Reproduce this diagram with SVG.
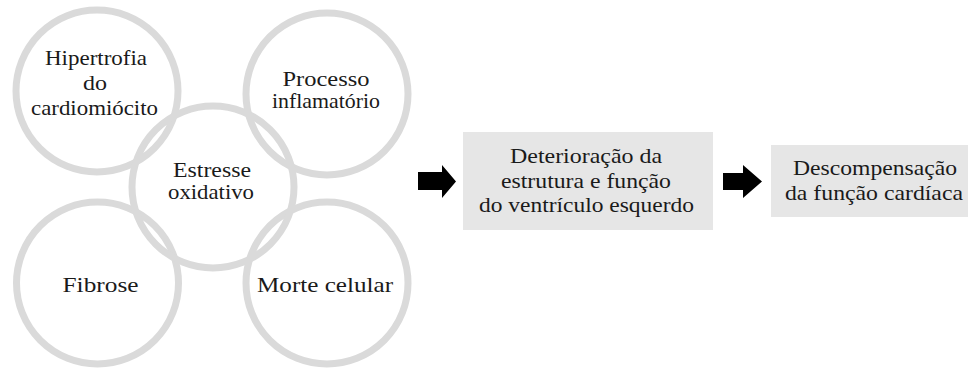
<svg xmlns="http://www.w3.org/2000/svg" width="968" height="369" viewBox="0 0 968 369">
<style>
.ring{fill:none;stroke:#dadada;stroke-width:7}
.box{fill:#e6e6e6}
.t{font-size:21px;fill:#1a1a1a;text-anchor:middle}
.arr{fill:#000}
</style>
<rect width="968" height="369" fill="#fff"/>
<g font-family="'Liberation Serif','Times New Roman',Tinos,'Nimbus Roman','Noto Serif','DejaVu Serif',FreeSerif,Georgia,serif">
<g id="hipertrofia">
<circle class="ring" cx="97" cy="91" r="81"/>
<text class="t" x="96" y="65" textLength="102" lengthAdjust="spacingAndGlyphs">Hipertrofia</text>
<text class="t" x="95" y="90" textLength="24" lengthAdjust="spacingAndGlyphs">do</text>
<text class="t" x="94.5" y="115" textLength="127" lengthAdjust="spacingAndGlyphs">cardiomiócito</text>
</g>
<g id="processo">
<circle class="ring" cx="327" cy="94" r="81"/>
<text class="t" x="326" y="86" textLength="87" lengthAdjust="spacingAndGlyphs">Processo</text>
<text class="t" x="326" y="108" textLength="108" lengthAdjust="spacingAndGlyphs">inflamatório</text>
</g>
<g id="fibrose">
<circle class="ring" cx="97.5" cy="283" r="81"/>
<text class="t" x="100.5" y="292" textLength="76" lengthAdjust="spacingAndGlyphs">Fibrose</text>
</g>
<g id="morte">
<circle class="ring" cx="327" cy="283" r="81"/>
<text class="t" x="325" y="292" textLength="136" lengthAdjust="spacingAndGlyphs">Morte celular</text>
</g>
<g id="estresse">
<circle class="ring" cx="213" cy="187" r="81"/>
<text class="t" x="212" y="177" textLength="78" lengthAdjust="spacingAndGlyphs">Estresse</text>
<text class="t" x="211" y="199" textLength="86" lengthAdjust="spacingAndGlyphs">oxidativo</text>
</g>
<g id="deterioracao">
<rect class="box" x="463" y="132" width="250" height="98"/>
<text class="t" x="586" y="163" textLength="152" lengthAdjust="spacingAndGlyphs">Deterioração da</text>
<text class="t" x="586" y="188" textLength="170" lengthAdjust="spacingAndGlyphs">estrutura e função</text>
<text class="t" x="586.5" y="212" textLength="215" lengthAdjust="spacingAndGlyphs">do ventrículo esquerdo</text>
</g>
<g id="descompensacao">
<rect class="box" x="771" y="145" width="200" height="72"/>
<text class="t" x="875" y="175" textLength="164" lengthAdjust="spacingAndGlyphs">Descompensação</text>
<text class="t" x="874" y="200" textLength="178" lengthAdjust="spacingAndGlyphs">da função cardíaca</text>
</g>
</g>
<g id="connectors">
<polygon class="arr" points="418,172 442,172 442,165 456,181.5 442,198 442,190 418,190"/>
<polygon class="arr" points="723,173 743,173 743,165 762,181.5 743,198 743,190 723,190"/>
</g>
</svg>
